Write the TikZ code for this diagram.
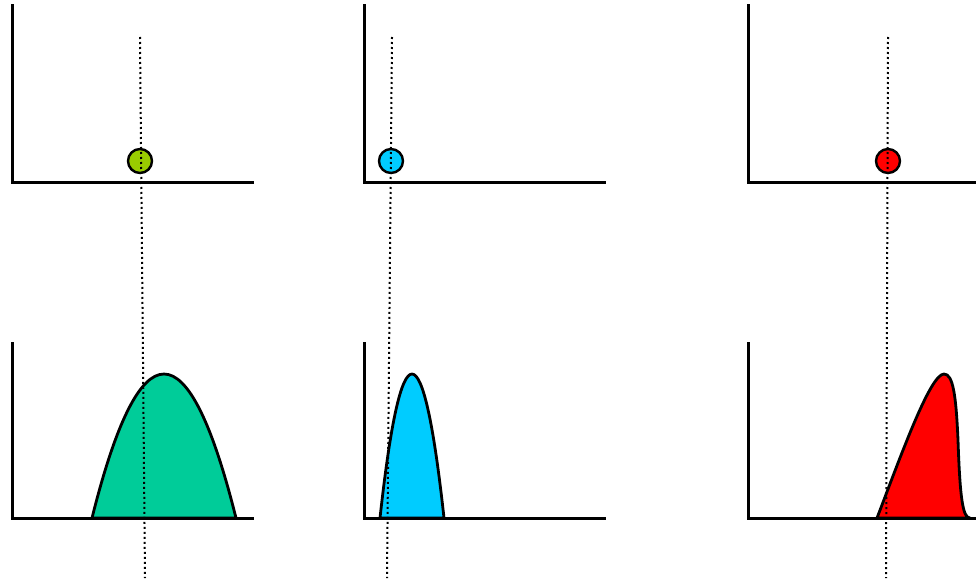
\documentclass[tikz,border=0pt]{standalone}
\usepackage{tikz}

\definecolor{ballgreen}{RGB}{153,204,0}
\definecolor{humpgreen}{RGB}{0,204,153}
\definecolor{skycyan}{RGB}{0,204,255}
\definecolor{pured}{RGB}{255,0,0}

\begin{document}
\begin{tikzpicture}[x=1pt, y=-1pt]
    % Styles
    \tikzstyle{axis} = [line width=3pt, line cap=rect]
    \tikzstyle{ball} = [circle, draw, line width=2.4pt, inner sep=0pt, minimum size=24pt]
    \tikzstyle{hump} = [draw, line width=2.8pt, line join=round]
    \tikzstyle{guide} = [line width=2pt, dash pattern=on 2pt off 3pt]

    \useasboundingbox (0,0) rectangle (976,578);

    % === TOP ROW: Positions ===
    \draw [axis] (12,6) -- (12,182) -- (252,182);
    \draw [axis] (364,6) -- (364,182) -- (604,182);
    \draw [axis] (748,6) -- (748,182) -- (976,182);

    \node [ball, fill=ballgreen] (ballA) at (140,161) {};
    \node [ball, fill=skycyan] (ballB) at (391,161) {};
    \node [ball, fill=pured] (ballC) at (888,161) {};

    % === BOTTOM ROW: Distributions ===
    \draw [hump, fill=humpgreen] (92,518) .. controls (140,326) and (188,326) .. (236,518) -- cycle;
    \draw [hump, fill=skycyan] (380,518) .. controls (401,326) and (423,326) .. (444,518) -- cycle;
    \draw [hump, fill=pured] (877,518) .. controls (900,458) and (930,374) .. (944,374)
        .. controls (953,374) and (956,395) .. (958,440)
        .. controls (960,500) and (963,518) .. (970,518) -- cycle;

    \draw [axis] (12,343) -- (12,518) -- (252,518);
    \draw [axis] (364,343) -- (364,518) -- (604,518);
    \draw [axis] (748,343) -- (748,518) -- (976,518);

    % === GUIDES ===
    \coordinate (guideAtop) at (140,37);
    \coordinate (guideAbot) at (145,578);
    \coordinate (guideBtop) at (392,37);
    \coordinate (guideBbot) at (387,578);
    \coordinate (guideCtop) at (888,37);
    \coordinate (guideCbot) at (886,578);

    \draw [guide] (guideAtop) -- (guideAbot);
    \draw [guide] (guideBtop) -- (guideBbot);
    \draw [guide] (guideCtop) -- (guideCbot);

\end{tikzpicture}
\end{document}
